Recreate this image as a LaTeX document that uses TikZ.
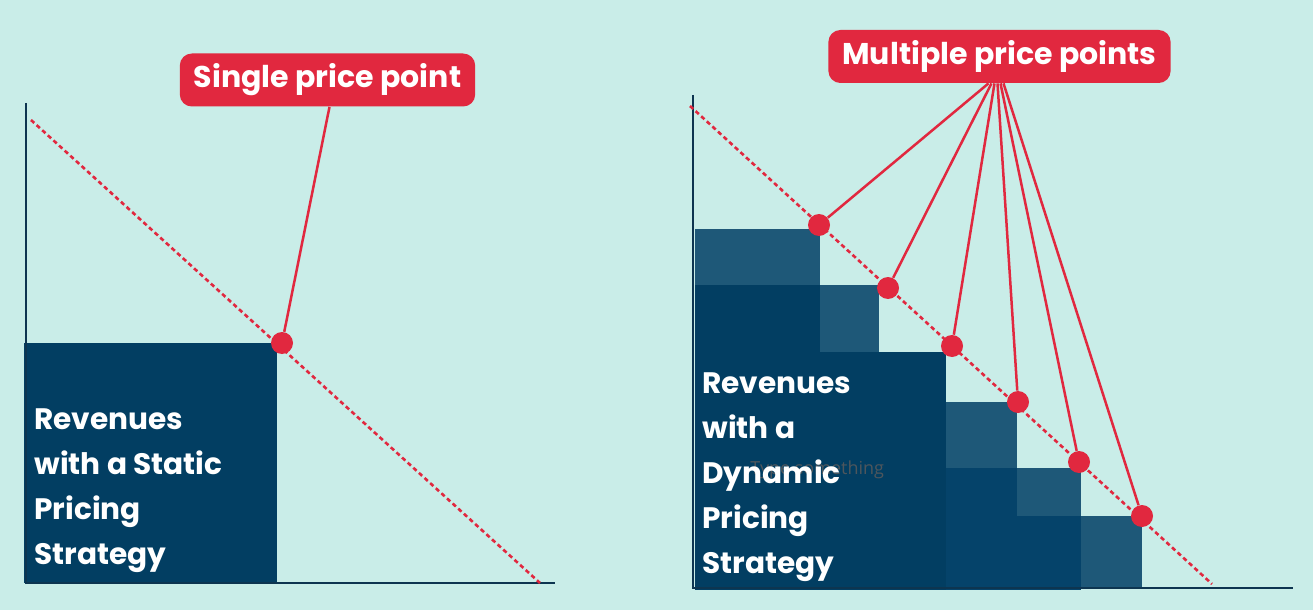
\documentclass[tikz,border=0pt]{standalone}
\usepackage{fontspec}
\setmainfont{Poppins}
\newfontfamily\hintfont{Open Sans}
\usetikzlibrary{positioning}
\definecolor{mint}{HTML}{C9EDE8}
\definecolor{navy}{HTML}{023E62}
\definecolor{navymid}{HTML}{05436A}
\definecolor{steel}{HTML}{1E5878}
\definecolor{crimson}{HTML}{E1283F}
\definecolor{axisline}{HTML}{0D3550}
\definecolor{hintgray}{HTML}{4E565C}
\tikzset{
  tag/.style={
    fill=crimson, rounded corners=6pt, text=white, inner xsep=7pt,
    font=\fontsize{15}{18}\selectfont\bfseries, minimum height=26.5pt
  },
  dot/.style={circle, fill=crimson, minimum size=11pt, inner sep=0pt},
  pointer/.style={draw=crimson, line width=1.25pt},
  demand/.style={draw=crimson, line width=1.3pt, dash pattern=on 2.2pt off 1.6pt},
  axis/.style={draw=axisline, line width=1.25pt},
  caption/.style={
    text=white, align=left, anchor=north west, inner sep=0pt,
    font=\fontsize{14.8}{22.5}\selectfont\bfseries
  },
}
\begin{document}
\begin{tikzpicture}[x=0.5pt, y=-0.5pt]
  \fill[mint] (0,0) rectangle (1313,610);
  \useasboundingbox (0,0) rectangle (1313,610);

  % static pricing
  \fill[navy] (24,343) rectangle (277,583);
  \draw[axis] (26,103) -- (26,583) -- (555,583);
  \draw[demand] (31,120) -- (540,583);
  \node[dot] (single) at (282,343) {};
  \node[tag] (single tag) at (327.5,80) {Single price point};
  \draw[pointer] ([xshift=1pt]single tag.south) -- (single);
  \node[caption] (static) at (34,408) {Revenues\\with a Static\\Pricing\\Strategy};

  % dynamic pricing
  \fill[steel] (695,229) rectangle (820,285);
  \fill[navy] (695,285) rectangle (820,352);
  \fill[steel] (820,285) rectangle (879,352);
  \fill[navy] (695,352) rectangle (946,590);
  \fill[steel] (946,402) rectangle (1017,468);
  \fill[navymid] (946,468) rectangle (1017,516);
  \fill[steel] (1017,468) rectangle (1081,516);
  \fill[navymid] (946,516) rectangle (1081,590);
  \fill[steel] (1081,516) rectangle (1142,588);
  \draw[axis] (693,95) -- (693,588) -- (1293,588);
  \draw[demand] (690,106) -- (1212,584);
  \foreach \i/\x/\y in {1/819/225, 2/888/288, 3/952/346, 4/1018/402, 5/1079/462, 6/1142/516}
    \node[dot] (p\i) at (\x,\y) {};
  \node[tag] (multi tag) at (999.5,56.5) {Multiple price points};
  \foreach \i/\s in {1/-5.5, 2/-4, 3/-2.5, 4/-1, 5/0.5, 6/2}
    \draw[pointer] ([xshift=\s pt]multi tag.south) -- (p\i);
  \node[text=hintgray, anchor=west, inner sep=0pt, font=\hintfont\fontsize{9}{11}\selectfont] (hint) at (750,470) {Type something};
  \node[caption] (dynamic) at (702,372) {Revenues\\with a\\Dynamic\\Pricing\\Strategy};
\end{tikzpicture}
\end{document}
